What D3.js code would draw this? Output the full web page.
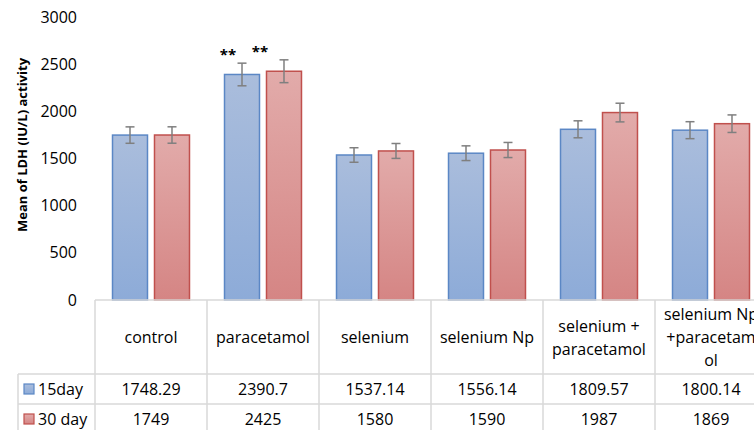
<!DOCTYPE html>
<html lang="en">
<script src='https://d3js.org/d3.v7.min.js'></script>
<style>
  body { margin: 0; background: #fff; }
  svg text { font-family: "Open Sans", sans-serif; fill: #000; }
</style>
<body>
<svg width=754 height=430></svg>
<script>

    // data
    var categories = ["control", "paracetamol", "selenium", "selenium Np", "selenium + paracetamol", "selenium Np +paracetamol"];
    // how the header cells wrap in the table
    var headerLines = [["control"], ["paracetamol"], ["selenium"], ["selenium Np"], ["selenium +", "paracetamol"], ["selenium Np", "+paracetam", "ol"]];
    var series = ["15day", "30 day"];
    var day15 = [1748.29, 2390.7, 1537.14, 1556.14, 1809.57, 1800.14];
    var day30 = [1749, 2425, 1580, 1590, 1987, 1869];
    var day15Labels = ["1748.29", "2390.7", "1537.14", "1556.14", "1809.57", "1800.14"];
    var day30Labels = ["1749", "2425", "1580", "1590", "1987", "1869"];
    // error bar half-lengths (estimated)
    var day15Err = [87, 120, 77, 78, 90, 90];
    var day30Err = [87, 121, 79, 80, 99, 93];
    var stars = ["", "**", "", "", "", ""];
    var yTicks = [0, 500, 1000, 1500, 2000, 2500, 3000];

    var svg = d3.select("svg");

    var left = 95, colW = 112;
    var zeroY = 300, topY = 17;

    var x0 = d3.scaleBand().domain(categories).range([left, left + colW * categories.length]);
    var x1 = d3.scaleBand().domain(series).range([0, colW]).paddingInner(1 / 6).paddingOuter(0.417);
    var y = d3.scaleLinear().domain([0, 3000]).range([zeroY, topY]);

    var fills = {"15day": "url(#gBlue)", "30 day": "url(#gRed)"};
    var strokes = {"15day": "#5b87c5", "30 day": "#c0504d"};

    // gradients
    var defs = svg.append("defs");
    function grad(id, c1, c2) {
        var g = defs.append("linearGradient").attr("id", id)
            .attr("x1", 0).attr("y1", 0).attr("x2", 0).attr("y2", 1);
        g.append("stop").attr("offset", "0%").attr("stop-color", c1);
        g.append("stop").attr("offset", "100%").attr("stop-color", c2);
    }
    grad("gBlue", "#aabddc", "#8dabd8");
    grad("gRed", "#e2abaa", "#d58584");

    // y axis, no line
    var yAxis = svg.append("g")
        .attr("transform", "translate(" + (left - 10) + ",0)")
        .call(d3.axisLeft(y).tickValues(yTicks).tickFormat(d3.format("d")).tickSize(0).tickPadding(8));
    yAxis.select(".domain").remove();
    yAxis.selectAll("text").style("font-size", "16px").style("font-family", "Open Sans").attr("fill", "#000");

    svg.append("text")
        .attr("transform", "translate(27,145) rotate(-90)")
        .attr("text-anchor", "middle")
        .style("font-size", "13px")
        .style("font-weight", "bold")
        .text("Mean of LDH (IU/L) activity");

    // bars
    var rows = categories.map(function (c, i) {
        return [
            {cat: c, s: series[0], v: day15[i], e: day15Err[i]},
            {cat: c, s: series[1], v: day30[i], e: day30Err[i]}
        ];
    });

    var groups = svg.append("g").selectAll("g").data(rows).enter().append("g")
        .attr("transform", function (d) { return "translate(" + x0(d[0].cat) + ",0)"; });

    groups.selectAll("rect").data(function (d) { return d; }).enter().append("rect")
        .attr("x", function (d) { return x1(d.s); })
        .attr("y", function (d) { return y(d.v); })
        .attr("width", x1.bandwidth())
        .attr("height", function (d) { return y(0) - y(d.v); })
        .attr("fill", function (d) { return fills[d.s]; })
        .attr("stroke", function (d) { return strokes[d.s]; })
        .attr("stroke-width", 1.5);

    // error bars
    var err = groups.selectAll("g.err").data(function (d) { return d; }).enter().append("g")
        .attr("class", "err")
        .attr("stroke", "#7f7f7f").attr("stroke-width", 1.5);
    var cx = function (d) { return x1(d.s) + x1.bandwidth() / 2; };
    err.append("line")
        .attr("x1", cx).attr("x2", cx)
        .attr("y1", function (d) { return y(d.v + d.e); })
        .attr("y2", function (d) { return y(d.v - d.e); });
    err.append("line")
        .attr("x1", function (d) { return cx(d) - 4.5; }).attr("x2", function (d) { return cx(d) + 4.5; })
        .attr("y1", function (d) { return y(d.v + d.e); }).attr("y2", function (d) { return y(d.v + d.e); });
    err.append("line")
        .attr("x1", function (d) { return cx(d) - 4.5; }).attr("x2", function (d) { return cx(d) + 4.5; })
        .attr("y1", function (d) { return y(d.v - d.e); }).attr("y2", function (d) { return y(d.v - d.e); });

    // significance marks
    groups.selectAll("text.star").data(function (d, i) { return stars[i] ? d : []; }).enter().append("text")
        .attr("class", "star")
        .attr("x", function (d, i) { return cx(d) - (i === 0 ? 14 : 24); })
        .attr("y", function (d) { return y(d.v + d.e) - 3; })
        .attr("text-anchor", "middle")
        .style("font-size", "15px")
        .style("font-weight", "bold")
        .text("**");

    // data table
    var tbl = svg.append("g").attr("stroke", "#d9d9d9").attr("stroke-width", 1.5);
    var legL = 18, hdrBot = 374, rowH = 30;
    var right = left + colW * categories.length;
    tbl.append("line").attr("x1", left).attr("x2", right).attr("y1", zeroY).attr("y2", zeroY);
    tbl.append("line").attr("x1", legL).attr("x2", right).attr("y1", hdrBot).attr("y2", hdrBot);
    tbl.append("line").attr("x1", legL).attr("x2", right).attr("y1", hdrBot + rowH).attr("y2", hdrBot + rowH);
    tbl.append("line").attr("x1", legL).attr("x2", right).attr("y1", hdrBot + 2 * rowH).attr("y2", hdrBot + 2 * rowH);
    tbl.append("line").attr("x1", legL).attr("x2", legL).attr("y1", hdrBot).attr("y2", hdrBot + 2 * rowH);
    tbl.selectAll("line.col").data(categories).enter().append("line")
        .attr("x1", function (d) { return x0(d); }).attr("x2", function (d) { return x0(d); })
        .attr("y1", zeroY).attr("y2", hdrBot + 2 * rowH);

    // header labels
    var hdr = svg.append("g").selectAll("text").data(categories).enter().append("text")
        .attr("text-anchor", "middle")
        .style("font-size", "16px")
        .attr("x", function (d) { return x0(d) + colW / 2; });
    hdr.each(function (d, i) {
        var lines = headerLines[i];
        var t = d3.select(this);
        var lh = 23;
        var y0 = (zeroY + hdrBot) / 2 - (lines.length - 1) * lh / 2 + 6;
        lines.forEach(function (l, k) {
            t.append("tspan").attr("x", x0(d) + colW / 2).attr("y", y0 + k * lh).text(l);
        });
    });

    // value rows
    var valueRows = [day15Labels, day30Labels];
    valueRows.forEach(function (labels, r) {
        svg.append("g").selectAll("text").data(labels).enter().append("text")
            .attr("text-anchor", "middle")
            .style("font-size", "16px")
            .attr("x", function (d, i) { return x0(categories[i]) + colW / 2; })
            .attr("y", hdrBot + r * rowH + 21)
            .text(function (d) { return d; });
    });

    // legend keys
    series.forEach(function (s, r) {
        var yy = hdrBot + r * rowH + 10;
        svg.append("rect")
            .attr("x", 24).attr("y", yy).attr("width", 10).attr("height", 10)
            .attr("fill", fills[s]).attr("stroke", strokes[s]).attr("stroke-width", 1.2);
        svg.append("text")
            .attr("x", 38).attr("y", hdrBot + r * rowH + 21)
            .style("font-size", "16px")
            .text(s);
    });

</script>
</body>
</html>
